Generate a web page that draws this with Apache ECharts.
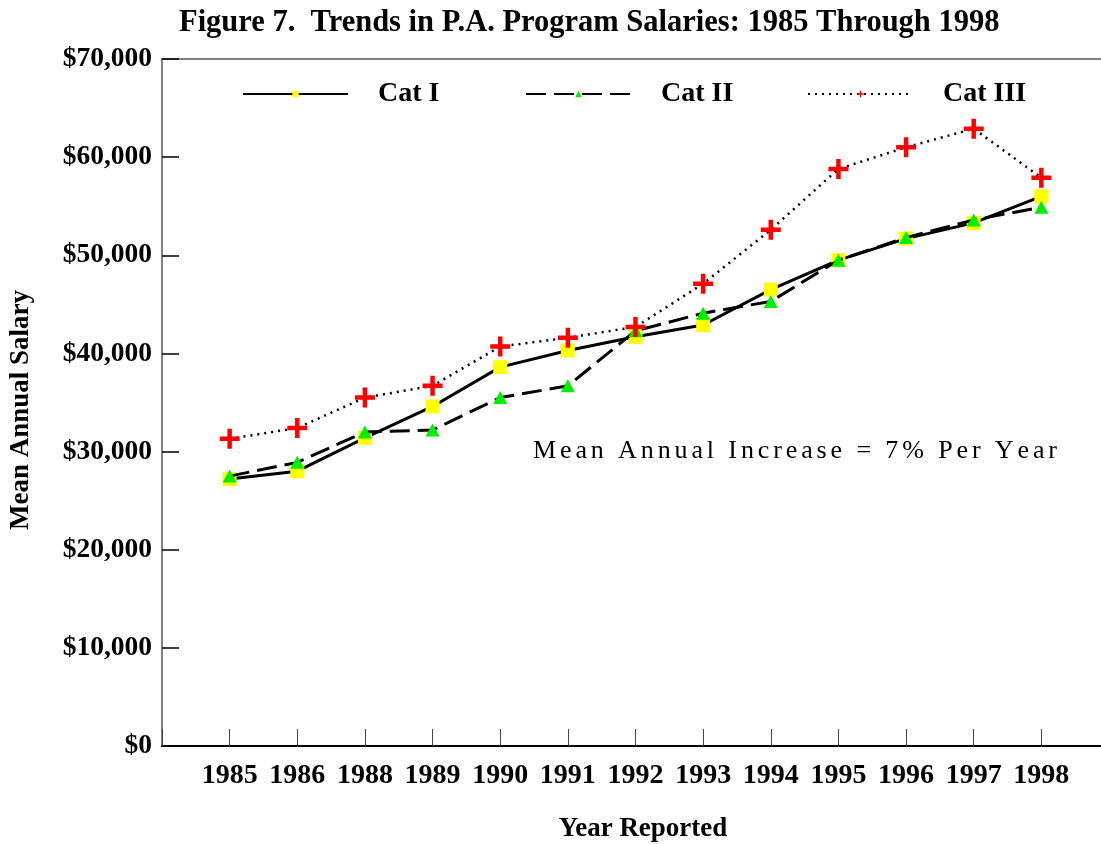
<!DOCTYPE html>
<html>
<head>
<meta charset="utf-8">
<script src="https://cdn.jsdelivr.net/npm/echarts@6/dist/echarts.min.js"></script>
<style>
html,body{margin:0;padding:0;background:#fff;}
#chart{width:1101px;height:844px;}
</style>
</head>
<body>
<div id="chart"></div>
<script>
// ---- data ----
var years = ['1985','1986','1988','1989','1990','1991','1992','1993','1994','1995','1996','1997','1998'];
var catI   = [27200, 28000, 31400, 34600, 38600, 40300, 41700, 42900, 46500, 49500, 51700, 53300, 56000];
var catII  = [27500, 28900, 32000, 32200, 35500, 36700, 42300, 44100, 45300, 49500, 51800, 53600, 54900];
var catIII = [31300, 32400, 35500, 36700, 40700, 41600, 42700, 47100, 52600, 58800, 61000, 62900, 57900];
var yTicks = [0, 10000, 20000, 30000, 40000, 50000, 60000, 70000];
var seriesNames = ['Cat I', 'Cat II', 'Cat III'];
var titleText = 'Figure 7.  Trends in P.A. Program Salaries: 1985 Through 1998';
var noteText = 'Mean Annual Increase = 7% Per Year';

function toPoints(arr){ return arr.map(function(v,i){ return [i+1, v]; }); }

var SERIF = '"Liberation Serif", "Times New Roman", serif';
var plusPath = 'path://M7.75,0 H12.25 V7.75 H20 V12.25 H12.25 V20 H7.75 V12.25 H0 V7.75 H7.75 Z';

// per-character annotation with letter spacing
function spacedText(str, x0, y, targetWidth, font){
  var c = document.createElement('canvas').getContext('2d');
  c.font = font;
  var widths = str.split('').map(function(ch){ return c.measureText(ch).width; });
  var total = widths.reduce(function(a,b){return a+b;},0);
  var gap = (targetWidth - total) / (str.length - 1);
  var els = [], x = x0;
  str.split('').forEach(function(ch,i){
    els.push({type:'text', x:x, y:y, silent:true,
      style:{text:ch, font:font, fill:'#000', textVerticalAlign:'middle', textAlign:'left'}});
    x += widths[i] + gap;
  });
  return els;
}

var chart = echarts.init(document.getElementById('chart'), null, {renderer:'canvas'});

function legendItem(name, left){
  return {
    data:[name], left:left, top:75, itemWidth:105, itemHeight:8, itemGap:0,
    textStyle:{fontFamily:SERIF, fontWeight:'bold', fontSize:28, color:'#000', padding:[0,0,0,25]}
  };
}

var option = {
  animation:false,
  backgroundColor:'#fff',
  title:{
    text:titleText, left:174, top:3,
    textStyle:{fontFamily:SERIF, fontWeight:'bold', fontSize:30.5, color:'#000'}
  },
  legend:[legendItem('Cat I',237), legendItem('Cat II',520), legendItem('Cat III',802)],
  grid:{left:162, top:59, width:947, height:687, show:true, borderColor:'#808080', borderWidth:2,
        backgroundColor:'transparent', containLabel:false, outerBoundsMode:'none'},
  xAxis:{
    type:'value', min:0, max:14, interval:1,
    name:'Year Reported', nameLocation:'middle', nameGap:70,
    nameTextStyle:{fontFamily:SERIF, fontWeight:'bold', fontSize:27, color:'#000', padding:[0,0,0,15]},
    axisLine:{show:true, onZero:false, lineStyle:{color:'#000', width:2}},
    axisTick:{show:true, inside:true, length:17, lineStyle:{color:'#444', width:1}},
    splitLine:{show:false},
    axisLabel:{
      margin:16, fontFamily:SERIF, fontWeight:'bold', fontSize:28, color:'#000',
      formatter:function(v){ return (v>=1 && v<=years.length) ? years[v-1] : ''; }
    }
  },
  yAxis:{
    type:'value', min:yTicks[0], max:yTicks[yTicks.length-1], interval:10000,
    name:'Mean Annual Salary', nameLocation:'middle', nameGap:127,
    nameTextStyle:{fontFamily:SERIF, fontWeight:'bold', fontSize:27, color:'#000', padding:[0,15,0,0]},
    axisLine:{show:true, lineStyle:{color:'#808080', width:2}},
    axisTick:{show:true, inside:true, length:17, lineStyle:{color:'#000', width:1.5}},
    splitLine:{show:false},
    axisLabel:{
      margin:10, fontFamily:SERIF, fontWeight:'bold', fontSize:27.5, color:'#000',
      formatter:function(v){ return '$' + v.toLocaleString('en-US'); }
    }
  },
  series:[
    {name:seriesNames[0], type:'line', data:toPoints(catI), symbol:'rect', symbolSize:14,
     lineStyle:{color:'#000', width:3, type:'solid'}, itemStyle:{color:'#ffff00', borderWidth:0}, z:3},
    {name:seriesNames[1], type:'line', data:toPoints(catII), symbol:'triangle', symbolSize:[14,13],
     lineStyle:{color:'#000', width:3, type:[20,8]}, itemStyle:{color:'#00ee00', borderWidth:0}, z:4},
    {name:seriesNames[2], type:'line', data:toPoints(catIII), symbol:plusPath, symbolSize:20,
     lineStyle:{color:'#000', width:2.5, type:[2,5]}, itemStyle:{color:'#ff0000', borderWidth:0}, z:5}
  ],
  graphic: spacedText(noteText, 533, 451, 524, 'normal 26px ' + SERIF)
};
chart.setOption(option);
</script>
</body>
</html>
